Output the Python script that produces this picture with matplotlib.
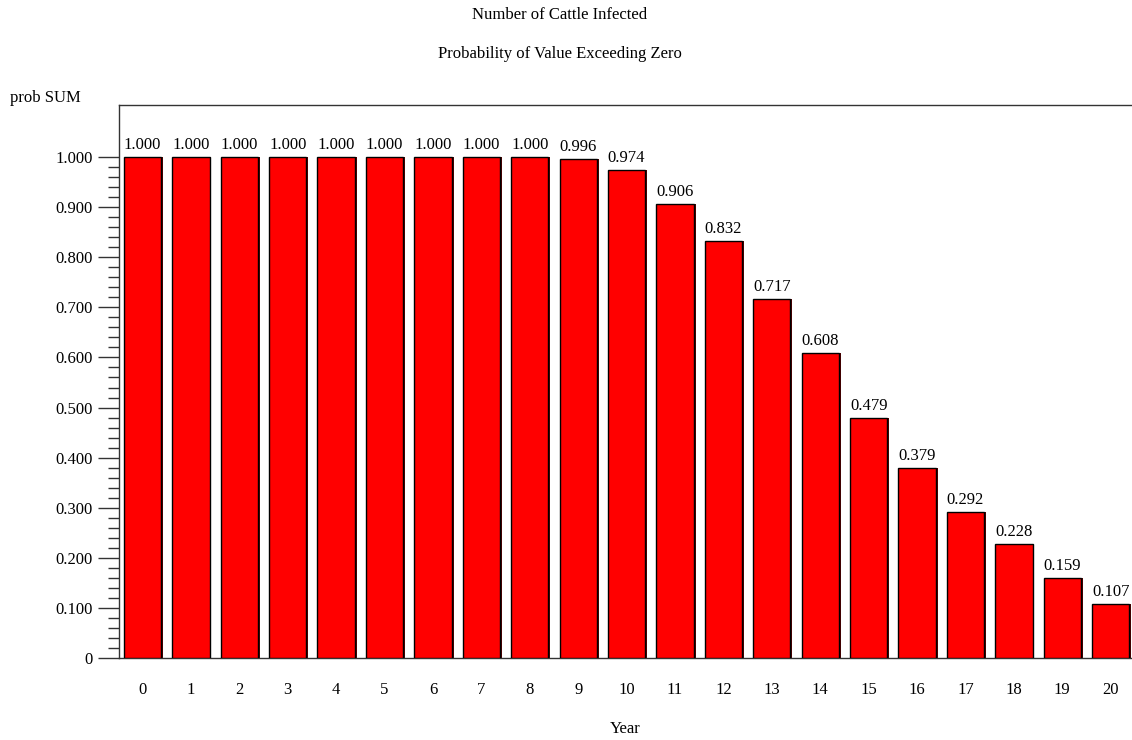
import numpy as np
import matplotlib
matplotlib.use('Agg')
from matplotlib import pyplot as plt
from matplotlib.ticker import FixedLocator, FuncFormatter

plt.rcParams['font.family'] = ['Liberation Serif', 'DejaVu Serif']

years = list(range(21))
prob = [1.000, 1.000, 1.000, 1.000, 1.000, 1.000, 1.000, 1.000, 1.000, 0.996,
        0.974, 0.906, 0.832, 0.717, 0.608, 0.479, 0.379, 0.292, 0.228, 0.159, 0.107]
labels = ['%.3f' % p for p in prob]

fig = plt.figure(figsize=(11.32, 7.4), dpi=100)
ax = fig.add_axes([119 / 1132, 1 - 658 / 740, 1 - 119 / 1132, (658 - 105) / 740])

x = np.array(years)
# dark shadow on the right side of each bar
ax.bar(x + 0.04, prob, width=0.77, color='#500000', edgecolor='none', zorder=2)
bars = ax.bar(x, prob, width=0.77, color='#ff0000', edgecolor='black', linewidth=1.0, zorder=3)

for xi, p, lab in zip(x, prob, labels):
    ax.annotate(lab, (xi, p), xytext=(0, 3), textcoords='offset points',
                ha='center', va='bottom', fontsize=12)

ax.set_xlim(-0.485, 20.44)
ax.set_ylim(0, 1.104)

major = [i / 10 for i in range(11)]
minor = [i / 50 for i in range(51) if i % 5 != 0]
ax.yaxis.set_major_locator(FixedLocator(major))
ax.yaxis.set_minor_locator(FixedLocator(minor))
ax.yaxis.set_major_formatter(FuncFormatter(lambda v, pos: '0' if abs(v) < 1e-9 else '%.3f' % v))
ax.tick_params(axis='y', which='major', length=15, width=1, color='#333333', labelsize=12, pad=4)
ax.tick_params(axis='y', which='minor', length=8, width=1, color='#333333')
ax.set_xticks(years)
ax.tick_params(axis='x', length=0, labelsize=12, pad=17)

for s in ['left', 'top', 'bottom']:
    ax.spines[s].set_color('#333333')
    ax.spines[s].set_linewidth(1)
ax.spines['right'].set_visible(False)

ax.set_xlabel('Year', fontsize=12, labelpad=17)
fig.text(560 / 1132, 1 - 15 / 740, 'Number of Cattle Infected', ha='center', va='center', fontsize=12)
fig.text(560 / 1132, 1 - 54 / 740, 'Probability of Value Exceeding Zero', ha='center', va='center', fontsize=12)
fig.text(10 / 1132, 1 - 98 / 740, 'prob SUM', ha='left', va='center', fontsize=12)

fig.savefig('out.png', dpi=100)
